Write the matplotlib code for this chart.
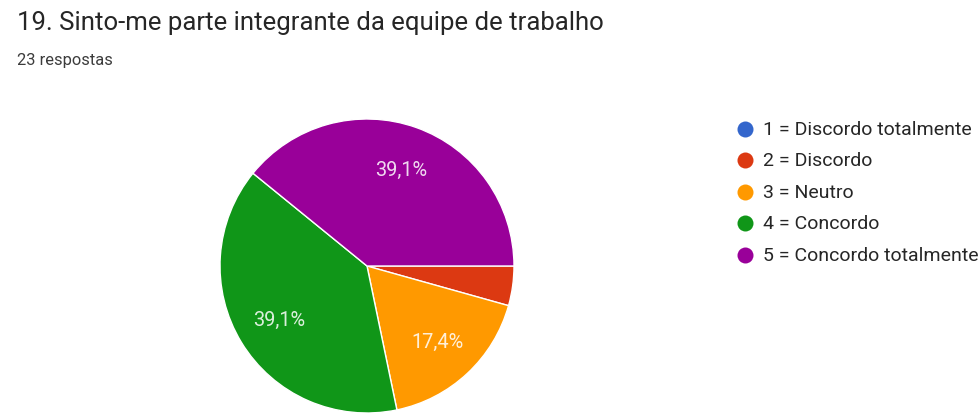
import matplotlib
matplotlib.use("Agg")
import matplotlib.pyplot as plt
from matplotlib.lines import Line2D

plt.rcParams['font.family'] = ['Roboto', 'DejaVu Sans']

title = "19. Sinto-me parte integrante da equipe de trabalho"
subtitle = "23 respostas"
categories = ["1 = Discordo totalmente", "2 = Discordo", "3 = Neutro",
              "4 = Concordo", "5 = Concordo totalmente"]
counts = [0, 1, 4, 9, 9]
colors = ["#3366cc", "#dc3912", "#ff9900", "#109618", "#990099"]

W, H = 980, 414
fig = plt.figure(figsize=(W / 100, H / 100), dpi=100)
fig.patch.set_facecolor("white")

def px(x, y):
    return x / W, 1 - y / H

fig.text(*px(17, 23), title, fontsize=25.8 * 0.72, color="#262626",
         va="center", ha="left")
fig.text(*px(17, 61), subtitle, fontsize=16.5 * 0.72, color="#3c3c3c",
         va="center", ha="left")

# pie axes: centre (367, 267), radius 147
cx, cy, r = 367, 267, 147
ax = fig.add_axes([(cx - r) / W, 1 - (cy + r) / H, 2 * r / W, 2 * r / H])

def fmt(p):
    return ("%.1f%%" % p).replace(".", ",") if p > 5 else ""

wedges, texts, autotexts = ax.pie(
    counts, colors=colors, startangle=0, counterclock=False,
    autopct=fmt, pctdistance=0.70,
    wedgeprops=dict(edgecolor="white", linewidth=1.0),
    textprops=dict(color="white", alpha=0.85, fontsize=20 * 0.72))
ax.set_xlim(-1, 1)
ax.set_ylim(-1, 1)
ax.set_aspect("equal")
ax.axis("off")

# legend
x0, y0, dy = 745, 130, 31.4
for i, (lab, col) in enumerate(zip(categories, colors)):
    fx, fy = px(x0, y0 + i * dy)
    fig.add_artist(Line2D([fx], [fy], marker="o", markersize=16 * 0.72,
                          color=col, markeredgewidth=0,
                          transform=fig.transFigure))
    fig.text(*px(763, y0 + i * dy), lab, fontsize=19.5 * 0.72,
             color="#262626", va="center", ha="left")

fig.savefig("out.png", dpi=100, facecolor="white")
